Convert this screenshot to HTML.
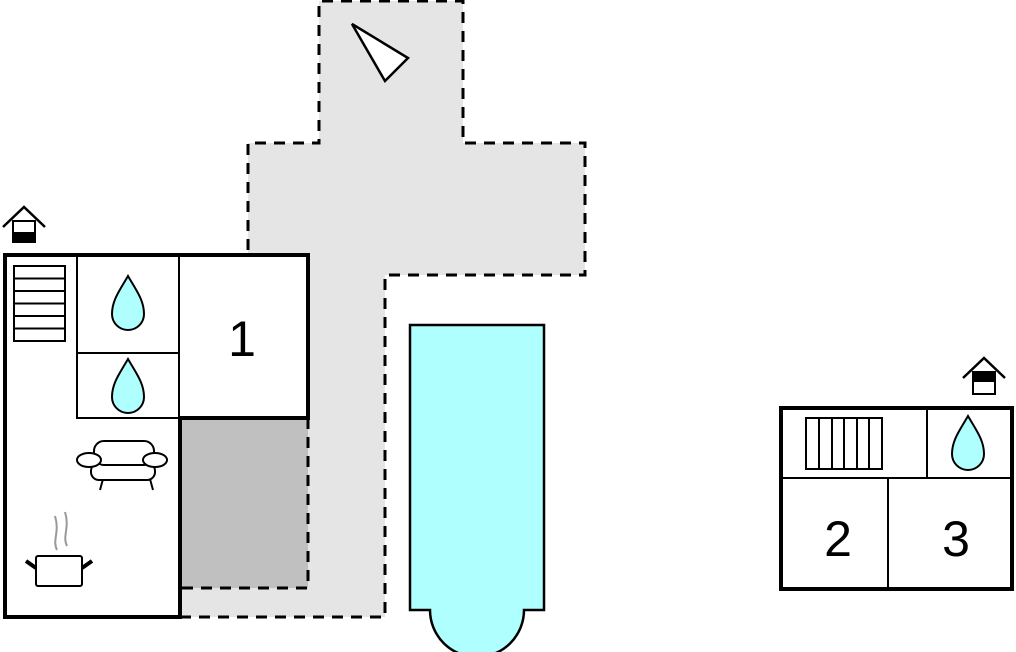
<!DOCTYPE html>
<html><head><style>html,body{margin:0;padding:0;background:#fff;}svg{display:block}</style></head>
<body>
<svg width="1016" height="652" viewBox="0 0 1016 652" xmlns="http://www.w3.org/2000/svg" font-family="Liberation Sans, sans-serif">
<defs>
<g id="drop"><path d="M0,-28 C-8,-14 -16,-4 -16,10 A16,16 0 0 0 16,10 C16,-4 8,-14 0,-28 Z" fill="#b0ffff" stroke="#000" stroke-width="2"/></g>
</defs>
<path d="M319,1 H463 V143 H585 V275 H385 V617 H180 V253 H248 V143 H319 Z" fill="#e5e5e5"/>
<path d="M180,617 H385 V275 H585 V143 H463 V1 H319 V143 H248 V253" fill="none" stroke="#000" stroke-width="3" stroke-dasharray="11,8"/>
<rect x="180" y="418" width="128" height="170" fill="#c0c0c0"/>
<path d="M308,418 V588 H180" fill="none" stroke="#000" stroke-width="3" stroke-dasharray="11,8"/>
<polygon points="352,24 408,58 385,81" fill="#fff" stroke="#000" stroke-width="2.5"/>
<path d="M410,325 H544 V610 H524 A47,47 0 0 1 430,610 H410 Z" fill="#b0ffff" stroke="#000" stroke-width="2.5"/>
<path d="M5,255 H308 V418 H180 V617 H5 Z" fill="#fff" stroke="#000" stroke-width="4"/>
<path d="M77,255 V418 H180 M179,255 V418 M77,353 H179" fill="none" stroke="#000" stroke-width="2"/>
<rect x="14" y="266" width="51" height="75" fill="#fff" stroke="#000" stroke-width="2"/>
<path d="M14,278.5 H65 M14,291 H65 M14,303.5 H65 M14,316 H65 M14,328.5 H65" stroke="#000" stroke-width="2"/>
<use href="#drop" x="128" y="304"/>
<use href="#drop" x="128" y="387"/>
<text x="242" y="356" font-size="50" text-anchor="middle">1</text>
<g fill="#fff" stroke="#000" stroke-width="2">
<path d="M100,490 L103,479 M150,479 L153,490"/>
<rect x="91" y="463" width="64" height="17" rx="8"/>
<rect x="94" y="441" width="60" height="24" rx="10"/>
<ellipse cx="89" cy="460" rx="12" ry="7"/>
<ellipse cx="155" cy="460" rx="12" ry="7"/>
</g>
<path d="M57,550 C52,540 60,532 55,516 M67,546 C62,536 70,528 65,512" fill="none" stroke="#999" stroke-width="2"/>
<rect x="36" y="556" width="46" height="30" rx="2" fill="#fff" stroke="#000" stroke-width="2"/>
<path d="M36,568 L26,561 M82,568 L92,561" stroke="#000" stroke-width="4"/>
<path d="M3,227 L24,207 L45,227" fill="none" stroke="#000" stroke-width="2.5"/>
<rect x="13" y="221" width="22" height="21" fill="#fff" stroke="#000" stroke-width="2"/>
<rect x="13" y="232" width="22" height="10" fill="#000"/>
<rect x="781" y="408" width="231" height="181" fill="#fff" stroke="#000" stroke-width="4"/>
<path d="M781,478 H1012 M927,408 V478 M888,478 V589" stroke="#000" stroke-width="2"/>
<rect x="806" y="418" width="76" height="51" fill="#fff" stroke="#000" stroke-width="2"/>
<path d="M819,418 V469 M832,418 V469 M844,418 V469 M857,418 V469 M869,418 V469" stroke="#000" stroke-width="2"/>
<use href="#drop" x="968" y="444"/>
<text x="838" y="556" font-size="50" text-anchor="middle">2</text>
<text x="956" y="556" font-size="50" text-anchor="middle">3</text>
<path d="M963,378 L984,358 L1005,378" fill="none" stroke="#000" stroke-width="2.5"/>
<rect x="973" y="372" width="22" height="22" fill="#fff" stroke="#000" stroke-width="2"/>
<rect x="973" y="372" width="22" height="10" fill="#000"/>
</svg>
</body></html>
